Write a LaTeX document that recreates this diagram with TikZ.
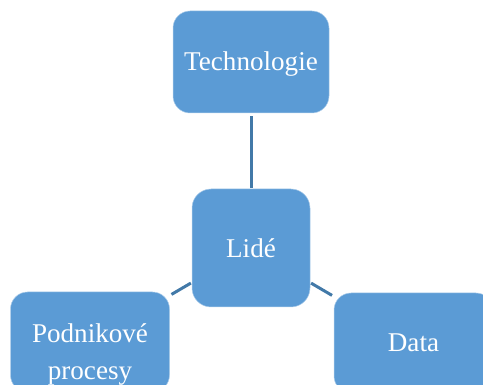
\documentclass[tikz,border=0pt]{standalone}
\usepackage{fontspec}
\setmainfont{Liberation Serif}
\definecolor{cardblue}{HTML}{5B9BD5}
\definecolor{linkblue}{HTML}{4279A8}
\newcommand{\lowered}[2]{\raisebox{-#1pt}[0pt][0pt]{#2}}
\tikzset{
  card/.style={draw=white!50!cardblue,line width=0.5pt,fill=cardblue,text=white,rounded corners=#1,inner sep=0pt,align=center,
    font=\fontsize{27.1}{35}\selectfont},
  card/.default=17pt,
  link/.style={draw=linkblue,line width=3pt}
}
\begin{document}
\begin{tikzpicture}[x=1pt,y=-1pt]
\useasboundingbox (0,0) rectangle (483,385);
\node[card,minimum width=156pt,minimum height=102pt] (tech) at (251,62) {\lowered{8.7}{Technologie}};
\node[card=19pt,minimum width=118pt,minimum height=118pt] (lide) at (251,248) {\lowered{9.8}{Lidé}};
\node[card,minimum width=159pt,minimum height=100pt] (podnik) at (90,342) {\rule{0pt}{44pt}Podnikové\\[1.5pt]procesy};
\node[card,minimum width=159pt,minimum height=100pt] (data) at (413.5,343) {\lowered{8.5}{Data}};
\draw[link,shorten >=1pt,shorten <=3pt] (tech) -- (lide);
\draw[link,shorten >=2pt,shorten <=1pt] (lide) -- (data);
\draw[link,shorten >=2pt,shorten <=1pt] (lide) -- (podnik);
\end{tikzpicture}
\end{document}
